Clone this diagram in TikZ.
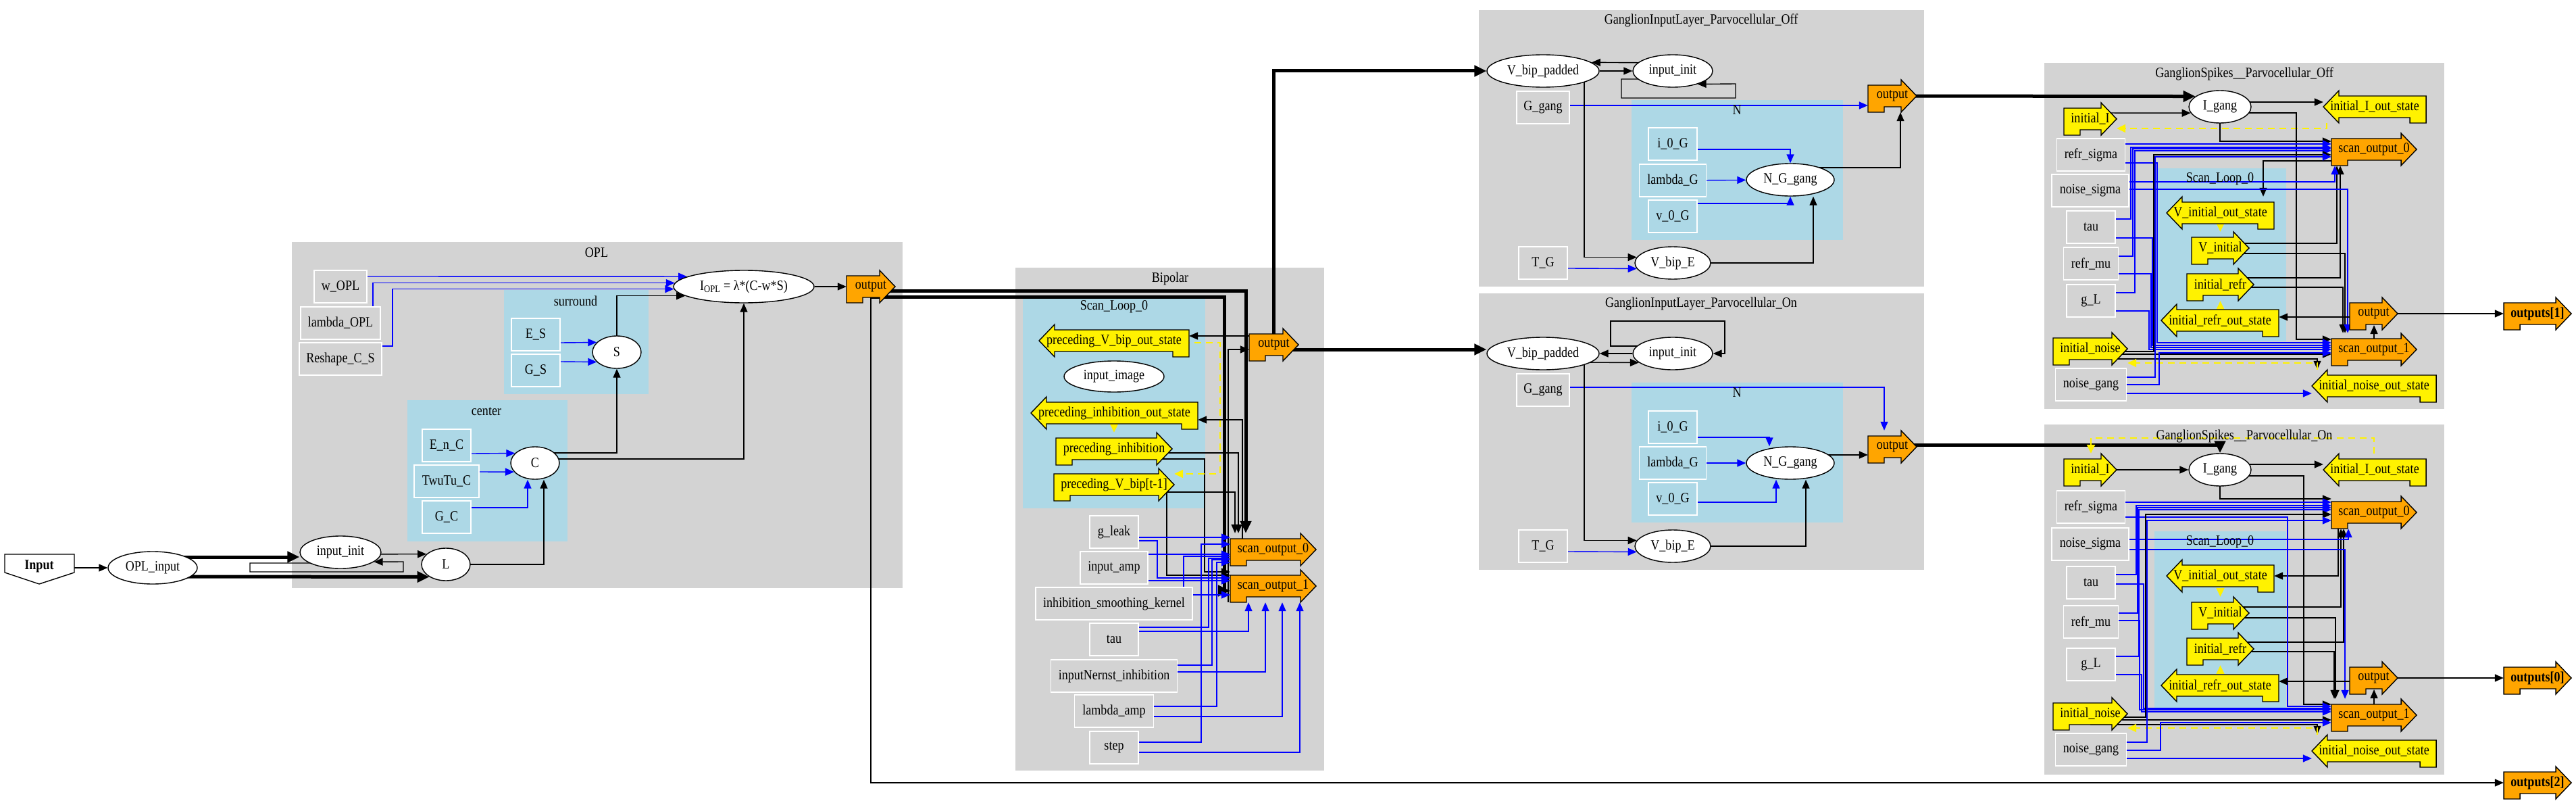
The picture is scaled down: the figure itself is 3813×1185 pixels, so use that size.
\documentclass[tikz,border=0pt]{standalone}
\usepackage{fontspec}
\setmainfont[FakeStretch=0.86]{Liberation Serif}
\usetikzlibrary{shapes.geometric,arrows.meta,positioning}
\definecolor{clgray}{HTML}{D3D3D3}
\definecolor{clblue}{HTML}{ADD8E6}
\definecolor{gvorange}{HTML}{FFA500}
\pgfdeclarelayer{clusters}
\pgfdeclarelayer{edges}
\pgfsetlayers{clusters,edges,main}
\newcommand{\gvfont}{\fontsize{21}{24}\selectfont}
% arrow shaped nodes: name, fill, left x, right x, centre y, text
\newcommand{\rarrnode}[6]{%
  \filldraw[fill=#2, shapeline] (#3,#5-16) -- (#4-23,#5-16) -- (#4-23,#5-24) -- (#4,#5)
    -- (#4-23,#5+24) -- (#4-23,#5+16) -- (#3+24,#5+16) -- (#3+24,#5+24) -- (#3,#5+24) -- cycle;
  \node[arrlbl, minimum width={#4-#3}] (#1) at ({(#3+#4)/2},#5) {#6};}
\newcommand{\larrnode}[6]{%
  \filldraw[fill=#2, shapeline] (#4,#5-16) -- (#3+23,#5-16) -- (#3+23,#5-24) -- (#3,#5)
    -- (#3+23,#5+24) -- (#3+23,#5+16) -- (#4-24,#5+16) -- (#4-24,#5+24) -- (#4,#5+24) -- cycle;
  \node[arrlbl, minimum width={#4-#3}] (#1) at ({(#3+#4)/2},#5) {#6};}

\begin{document}
\begin{tikzpicture}[
x=1pt, y=-1pt,
blk/.style={draw=black, line width=1.4pt, -{Triangle[length=13pt,width=11pt]}},
blu/.style={blk, draw=blue},
thk/.style={draw=black, line width=5pt, -{Triangle[length=18pt,width=16pt]}},
ydash/.style={draw=yellow, line width=2.2pt, dash pattern=on 10pt off 7pt, -{Triangle[length=13pt,width=12pt]}},
ytip/.style={draw=yellow, line width=2pt, -{Triangle[length=13pt,width=12pt]}},
shapeline/.style={draw=black, line width=1.4pt},
arrlbl/.style={font=\gvfont, inner sep=0pt, minimum height=48pt},
ell/.style={ellipse, draw=black, line width=1.4pt, fill=white, font=\gvfont, minimum height=48pt, inner sep=0pt},
gbox/.style={draw=white, line width=1.2pt, fill=#1, font=\gvfont, minimum height=48pt, inner sep=0pt},
gbox/.default=clgray,
ttl/.style={font=\gvfont, inner sep=0pt}
]
\useasboundingbox (0,0) rectangle (3813,1185);

\begin{pgfonlayer}{clusters}
\fill[white] (0,0) rectangle (3813,1185);
\fill[clgray] (432,358) rectangle (1336,870);
\fill[clblue] (746,429) rectangle (960,583);
\fill[clblue] (603,592) rectangle (840,801);
\fill[clgray] (1503,396) rectangle (1960,1140);
\fill[clblue] (1514,441) rectangle (1784,752);
\fill[clgray] (2189,15) rectangle (2848,424);
\fill[clblue] (2415,148) rectangle (2728,355);
\fill[clgray] (2189,434) rectangle (2848,843);
\fill[clblue] (2415,566) rectangle (2728,773);
\fill[clgray] (3026,93) rectangle (3618,605);
\fill[clblue] (3193,249) rectangle (3384,505);
\fill[clgray] (3026,628) rectangle (3618,1146);
\fill[clblue] (3189,786) rectangle (3384,1047);
\end{pgfonlayer}

\node[ttl] (tOPL) at (883,374) {OPL};
\node[ttl] (tsur) at (852,445) {surround};
\node[ttl] (tcen) at (720,609) {center};
\node[ttl] (tbip) at (1732,412) {Bipolar};
\node[ttl] (tbsl) at (1649,454) {Scan\_Loop\_0};
\node[ttl] (tgoff) at (2518,30) {GanglionInputLayer\_Parvocellular\_Off};
\node[ttl] (tnoff) at (2571,163) {N};
\node[ttl] (tgon) at (2518,449) {GanglionInputLayer\_Parvocellular\_On};
\node[ttl] (tnon) at (2571,581) {N};
\node[ttl] (tsoff) at (3322,109) {GanglionSpikes\_\_Parvocellular\_Off};
\node[ttl] (tsloff) at (3286,265) {Scan\_Loop\_0};
\node[ttl] (tson) at (3322,645) {GanglionSpikes\_\_Parvocellular\_On};
\node[ttl] (tslon) at (3286,802) {Scan\_Loop\_0};

% input and OPL
\filldraw[fill=white, shapeline] (7,820) -- (110,820) -- (110,847) -- (58,864) -- (7,847) -- cycle;
\node[arrlbl, minimum width=103, minimum height=44, font=\gvfont\bfseries] (inp) at (58,838) {Input};
\node[ell, minimum width=132] (oplin) at (226,840) {OPL\_input};
\node[gbox, minimum width=78] (wopl) at (504,424) {w\_OPL};
\node[gbox, minimum width=118] (lopl) at (504,478) {lambda\_OPL};
\node[gbox, minimum width=122] (rcs) at (504,531) {Reshape\_C\_S};
\node[gbox=clblue, minimum width=72] (es) at (793,495) {E\_S};
\node[gbox=clblue, minimum width=72] (gs) at (793,548) {G\_S};
\node[ell, minimum width=72] (oS) at (913,521) {S};
\node[ell, minimum width=208] (iopl) at (1101,424) {I\textsubscript{OPL} = λ*(C-w*S)};
\rarrnode{oout}{gvorange}{1253}{1325}{424}{output}
\node[gbox=clblue, minimum width=72] (enc) at (661,659) {E\_n\_C};
\node[gbox=clblue, minimum width=96] (twc) at (661,712) {TwuTu\_C};
\node[gbox=clblue, minimum width=72] (gc) at (661,765) {G\_C};
\node[ell, minimum width=72] (oC) at (792,685) {C};
\node[ell, minimum width=120] (oinit) at (504,817) {input\_init};
\node[ell, minimum width=72] (oL) at (660,835) {L};

% bipolar
\larrnode{bpvs}{yellow}{1538}{1760}{504}{preceding\_V\_bip\_out\_state}
\node[ell, minimum width=148, minimum height=46] (bimg) at (1649,557) {input\_image};
\larrnode{bpis}{yellow}{1526}{1773}{611}{preceding\_inhibition\_out\_state}
\rarrnode{bpi}{yellow}{1563}{1735}{664}{preceding\_inhibition}
\rarrnode{bpv}{yellow}{1560}{1738}{717}{preceding\_V\_bip[t-1]}
\node[gbox, minimum width=72] (bgl) at (1649,787) {g\_leak};
\node[gbox, minimum width=100] (bia) at (1649,840) {input\_amp};
\node[gbox, minimum width=232] (bisk) at (1649,893) {inhibition\_smoothing\_kernel};
\node[gbox, minimum width=72] (btau) at (1649,946) {tau};
\node[gbox, minimum width=187] (bin) at (1649,1000) {inputNernst\_inhibition};
\node[gbox, minimum width=117] (bla) at (1649,1052) {lambda\_amp};
\node[gbox, minimum width=72] (bstep) at (1649,1106) {step};
\rarrnode{bout}{gvorange}{1849}{1922}{510}{output}
\rarrnode{bso0}{gvorange}{1821}{1948}{813}{scan\_output\_0}
\rarrnode{bso1}{gvorange}{1821}{1948}{867}{scan\_output\_1}

% ganglion input layer, off
\node[ell, minimum width=166] (fvbp) at (2284,105) {V\_bip\_padded};
\node[ell, minimum width=118] (finit) at (2476,105) {input\_init};
\node[gbox, minimum width=78] (fgg) at (2284,159) {G\_gang};
\node[gbox=clblue, minimum width=72] (fi0) at (2476,213) {i\_0\_G};
\node[gbox=clblue, minimum width=99] (flg) at (2476,267) {lambda\_G};
\node[gbox=clblue, minimum width=72] (fv0) at (2476,320) {v\_0\_G};
\node[ell, minimum width=130] (fng) at (2650,266) {N\_G\_gang};
\rarrnode{fout}{gvorange}{2765}{2837}{142}{output}
\node[gbox, minimum width=72] (ftg) at (2284,389) {T\_G};
\node[ell, minimum width=112] (fvbe) at (2476,389) {V\_bip\_E};

% ganglion input layer, on
\node[ell, minimum width=166] (nvbp) at (2284,523) {V\_bip\_padded};
\node[ell, minimum width=118] (ninit) at (2476,523) {input\_init};
\node[gbox, minimum width=78] (ngg) at (2284,577) {G\_gang};
\node[gbox=clblue, minimum width=72] (ni0) at (2476,632) {i\_0\_G};
\node[gbox=clblue, minimum width=99] (nlg) at (2476,685) {lambda\_G};
\node[gbox=clblue, minimum width=72] (nv0) at (2476,738) {v\_0\_G};
\node[ell, minimum width=130] (nng) at (2650,685) {N\_G\_gang};
\rarrnode{nout}{gvorange}{2765}{2837}{661}{output}
\node[gbox, minimum width=72] (ntg) at (2284,808) {T\_G};
\node[ell, minimum width=112] (nvbe) at (2476,808) {V\_bip\_E};

% ganglion spikes, off
\node[ell, minimum width=92] (sfI) at (3286,158) {I\_gang};
\rarrnode{sfiI}{yellow}{3055}{3133}{176}{initial\_I}
\larrnode{sfIo}{yellow}{3439}{3591}{158}{initial\_I\_out\_state}
\node[gbox, minimum width=101] (sfrs) at (3095,229) {refr\_sigma};
\node[gbox, minimum width=114] (sfns) at (3094,282) {noise\_sigma};
\node[gbox, minimum width=72] (sftau) at (3095,336) {tau};
\node[gbox, minimum width=81] (sfrm) at (3095,390) {refr\_mu};
\node[gbox, minimum width=72] (sfgl) at (3095,445) {g\_L};
\rarrnode{sfin}{yellow}{3039}{3149}{516}{initial\_noise}
\node[gbox, minimum width=105] (sfng) at (3095,569) {noise\_gang};
\larrnode{sfino}{yellow}{3422}{3606}{571}{initial\_noise\_out\_state}
\larrnode{sfvio}{yellow}{3207}{3366}{315}{V\_initial\_out\_state}
\rarrnode{sfvi}{yellow}{3244}{3329}{367}{V\_initial}
\rarrnode{sfir}{yellow}{3237}{3336}{421}{initial\_refr}
\larrnode{sfiro}{yellow}{3199}{3373}{474}{initial\_refr\_out\_state}
\rarrnode{sfso0}{gvorange}{3451}{3577}{221}{scan\_output\_0}
\rarrnode{sfso1}{gvorange}{3451}{3577}{517}{scan\_output\_1}
\rarrnode{sfout}{gvorange}{3478}{3549}{464}{output}
\rarrnode{outs1}{gvorange}{3706}{3806}{464}{\textbf{outputs[1]}}

% ganglion spikes, on
\node[ell, minimum width=92] (snI) at (3286,695) {I\_gang};
\rarrnode{sniI}{yellow}{3055}{3133}{695}{initial\_I}
\larrnode{snIo}{yellow}{3439}{3591}{695}{initial\_I\_out\_state}
\node[gbox, minimum width=101] (snrs) at (3095,750) {refr\_sigma};
\node[gbox, minimum width=114] (snns) at (3094,805) {noise\_sigma};
\node[gbox, minimum width=72] (sntau) at (3095,862) {tau};
\node[gbox, minimum width=81] (snrm) at (3095,920) {refr\_mu};
\node[gbox, minimum width=72] (sngl) at (3095,983) {g\_L};
\rarrnode{snin}{yellow}{3039}{3149}{1056}{initial\_noise}
\node[gbox, minimum width=105] (snng) at (3095,1109) {noise\_gang};
\larrnode{snino}{yellow}{3422}{3606}{1111}{initial\_noise\_out\_state}
\larrnode{snvio}{yellow}{3207}{3366}{852}{V\_initial\_out\_state}
\rarrnode{snvi}{yellow}{3244}{3329}{907}{V\_initial}
\rarrnode{snir}{yellow}{3237}{3336}{960}{initial\_refr}
\larrnode{sniro}{yellow}{3199}{3373}{1014}{initial\_refr\_out\_state}
\rarrnode{snso0}{gvorange}{3451}{3577}{758}{scan\_output\_0}
\rarrnode{snso1}{gvorange}{3451}{3577}{1058}{scan\_output\_1}
\rarrnode{snout}{gvorange}{3478}{3549}{1003}{output}
\rarrnode{outs0}{gvorange}{3706}{3806}{1003}{\textbf{outputs[0]}}
\rarrnode{outs2}{gvorange}{3706}{3806}{1158}{\textbf{outputs[2]}}

\begin{pgfonlayer}{edges}
% OPL
\draw[blk] (inp.east |- 0,840) -- (oplin.west);
\draw[thk] (oplin.center |- 0,824) -- (oinit.west |- 0,824);
\draw[thk] (oplin.center |- 0,853) -- (oL.217);
\draw[blk] (oinit.center |- 0,833) -- (370,833) -- (370,846) -- (597,846) -- (597,831) -- (oinit.-16);
\draw[blk] (oinit.center |- 0,820) -- (oL.152);
\draw[blk] (oL.center) -| (805,0 |- oC.south);
\draw[blu] (gc.east |- 0,751) -| (781,0 |- oC.south);
\draw[blu] (enc.east |- 0,671) -- (oC.154);
\draw[blu] (twc.east |- 0,698) -- (oC.203);
\draw[blk] (oC.center |- 0,670) -| (oS.south);
\draw[blk] (oC.center |- 0,679) -| (iopl.south);
\draw[blu] (es.east |- 0,507) -- (oS.154);
\draw[blu] (gs.east |- 0,535) -- (oS.206);
\draw[blk] (oS.center) |- (iopl.189);
\draw[blu] (wopl.east |- 0,409) -- (iopl.170);
\draw[blu] (552,0 |- lopl.north) |- (iopl.177);
\draw[blu] (rcs.east |- 0,512) -| (581,0 |- iopl.182) -- (iopl.182);
\draw[blk] (iopl) -- (oout);
\draw[blk] (oout.center) |- (outs2.west);
\draw[thk] (oout.center |- 0,430) -| (1844,0 |- bso0.north);
\draw[thk] (oout.center |- 0,439) -| (1812,874) -- (bso1.west |- 0,874);
% bipolar
\draw[blk] (bout.center |- 0,497) -- (bpvs.east |- 0,497);
\draw[blk] (1818,0 |- bso1.south) |- (bout.west |- 0,517);
\draw[blk] (1839,0 |- bso0.center) |- (bpis.east |- 0,621);
\draw[blk] (bpi.center |- 0,670) -| (1833,0 |- bso0.north);
\draw[blk] (bpv.center |- 0,728) -| (1828,0 |- bso0.north);
\draw[blk] (bpi.center |- 0,679) -| (1783,846) -- (bso1.west |- 0,846);
\draw[blk] (1727,0 |- bpv.center) |- (bso1.west |- 0,851);
\draw[ydash] (bpvs.center |- 0,507) -| (1806,701) -- (bpv.east |- 0,701);
\draw[ytip] (bpi.north |- bpis.south) -- (bpi.north);
\draw[blu] (bgl.east |- 0,795) -- (bso0.west |- 0,795);
\draw[blu] (bgl.east |- 0,800) -| (1713,855) -- (bso1.west |- 0,855);
\draw[blu] (bia.east |- 0,820) -- (bso0.west |- 0,820);
\draw[blu] (bia.east |- 0,859) -- (bso1.west |- 0,859);
\draw[blu] (1752,0 |- bisk.north) |- (bso0.west |- 0,823);
\draw[blu] (bisk.east |- 0,880) -- (bso1.west |- 0,880);
\draw[blu] (btau.east |- 0,928) -| (1789,826) -- (bso0.west |- 0,826);
\draw[blu] (btau.east |- 0,934) -| (1848,0 |- bso1.south);
\draw[blu] (bin.east |- 0,984) -| (1794,828) -- (bso0.west |- 0,828);
\draw[blu] (bin.east |- 0,994) -| (1873,0 |- bso1.south);
\draw[blu] (bla.east |- 0,1045) -| (1801,832) -- (bso0.west |- 0,832);
\draw[blu] (bla.east |- 0,1060) -| (1898,0 |- bso1.south);
\draw[blu] (bstep.east |- 0,1098) -| (1778,805) -- (bso0.west |- 0,805);
\draw[blu] (bstep.east |- 0,1113) -| (1924,0 |- bso1.south);
\draw[thk] (bout.center) |- (fvbp.west);
\draw[thk] (bout.center |- 0,517) -- (nvbp.west |- 0,517);
% ganglion input layer, off
\draw[blk] (fvbp) -- (finit);
\draw[blk] (finit.center |- 0,93) -- (fvbp.10);
\draw[blk] (finit.center |- 0,117) -| (2400,145) -| (2569,124) -- (finit.-28);
\draw[blu] (fgg.east |- 0,156) -- (fout.west |- 0,156);
\draw[blu] (fi0.east |- 0,221) -| (fng.north);
\draw[blu] (flg) -- (fng);
\draw[blu] (fv0.east |- 0,301) -| (fng.south);
\draw[blk] (fng.center |- 0,248) -| (2813,0 |- fout.south);
\draw[blk] (2345,0 |- fvbp.center) |- (fvbe.171);
\draw[blu] (ftg.east |- 0,397) -- (fvbe.189);
\draw[blk] (fvbe.center) -| (2684,0 |- fng.south);
\draw[thk] (fout.center) -- (sfI.157);
% ganglion input layer, on
\draw[blk] (nvbp.center |- 0,536) -- (ninit.195);
\draw[blk] (ninit) -- (nvbp);
\draw[blk] (ninit.center |- 0,512) -| (2384,475) -| (2553,0 |- ninit.east) -- (ninit.east);
\draw[blu] (ngg.east |- 0,573) -| (2789,0 |- nout.north);
\draw[blu] (ni0.east |- 0,647) -| (2619,0 |- nng.north);
\draw[blu] (nlg) -- (nng);
\draw[blu] (nv0.east |- 0,743) -| (2629,0 |- nng.south);
\draw[blk] (nng.center |- 0,673) -- (nout.west |- 0,673);
\draw[blk] (2345,0 |- nvbp.center) |- (nvbe.171);
\draw[blu] (ntg.east |- 0,816) -- (nvbe.189);
\draw[blk] (nvbe.center) -| (2673,0 |- nng.south);
\draw[thk] (nout.center |- 0,658) -| (snI.north);
% ganglion spikes, off
\draw[blk] (sfiI.center |- 0,167) -- (sfI.192);
\draw[blk] (sfI.center |- 0,151) -- (sfIo.west |- 0,151);
\draw[ydash] (3444,0 |- sfIo.south) |- (sfiI.east |- 0,190);
\draw[blk] (sfI.center) |- (sfso0.west |- 0,209);
\draw[blk] (sfI.center |- 0,167) -| (3399,502) -- (sfso1.west |- 0,502);
\draw[blk] (sfso0.west |- 0,238) -| (3350,0 |- sfvio.north);
\draw[blk] (sfvi.center |- 0,360) -| (3459,0 |- sfso0.south);
\draw[blk] (sfvi.center |- 0,375) -| (3471,0 |- sfso1.north);
\draw[blk] (sfir.center |- 0,411) -| (3464,0 |- sfso0.south);
\draw[blk] (sfir.center |- 0,425) -| (3468,0 |- sfso1.north);
\draw[ytip] (sfvi.north |- sfvio.south) -- (sfvi.north);
\draw[ytip] (sfir.south |- sfiro.north) -- (sfir.south);
\draw[blu] (sfns.east |- 0,269) -| (3456,0 |- sfso0.south);
\draw[blu] (sfns.east |- 0,280) -| (3475,0 |- sfso1.north);
\draw[blu] (sfrs.east |- 0,213) -- (sfso0.west |- 0,213);
\draw[blu] (sfrs.east |- 0,241) -| (3193,507) -- (sfso1.west |- 0,507);
\draw[blu] (sftau.east |- 0,324) -| (3154,218) -- (sfso0.west |- 0,218);
\draw[blu] (sftau.east |- 0,352) -| (3186,511) -- (sfso1.west |- 0,511);
\draw[blu] (sfrm.east |- 0,379) -| (3157,220) -- (sfso0.west |- 0,220);
\draw[blu] (sfrm.east |- 0,405) -| (3184,514) -- (sfso1.west |- 0,514);
\draw[blu] (sfgl.east |- 0,433) -| (3160,223) -- (sfso0.west |- 0,223);
\draw[blu] (sfgl.east |- 0,460) -| (3181,517) -- (sfso1.west |- 0,517);
\draw[blk] (sfin.center |- 0,520) -| (3188,229) -- (sfso0.west |- 0,229);
\draw[blk] (sfin.center |- 0,524) -- (sfso1.west |- 0,524);
\draw[blk] (sfin.center |- 0,531) -| (3430,0 |- sfino.north);
\draw[ydash] (3430,0 |- sfino.north) |- (sfin.east |- 0,537);
\draw[blu] (sfng.east |- 0,558) -| (3190,232) -- (sfso0.west |- 0,232);
\draw[blu] (sfng.east |- 0,569) -| (3196,522) -- (sfso1.west |- 0,522);
\draw[blu] (sfng.east |- 0,582) -- (sfino.west |- 0,582);
\draw[blk] (sfout) -- (outs1);
\draw[blk] (sfout.center |- 0,469) -- (sfiro.east |- 0,469);
\draw[blk] (3514,0 |- sfso1.center) -- (3514,481);
% ganglion spikes, on
\draw[blk] (sniI) -- (snI);
\draw[blk] (snI.center |- 0,687) -- (snIo.west |- 0,687);
\draw[ydash] (3514,0 |- snIo.north) -- (3514,648) -| (3095,0 |- sniI.north);
\draw[blk] (snI.center) |- (snso0.west |- 0,738);
\draw[blk] (snI.center |- 0,704) -| (3410,1042) -- (snso1.west |- 0,1042);
\draw[blk] (3461,0 |- snso0.center) |- (snvio.east);
\draw[blk] (snvi.center |- 0,898) -| (3465,0 |- snso0.south);
\draw[blk] (snvi.center |- 0,914) -| (3457,0 |- snso1.north);
\draw[blk] (snir.center |- 0,950) -| (3469,0 |- snso0.south);
\draw[blk] (snir.center |- 0,964) -| (3455,0 |- snso1.north);
\draw[ytip] (snvi.north |- snvio.south) -- (snvi.north);
\draw[ytip] (snir.south |- sniro.north) -- (snir.south);
\draw[blu] (snns.east |- 0,798) -| (3476,0 |- snso0.south);
\draw[blu] (snns.east |- 0,813) -| (3471,0 |- snso1.north);
\draw[blu] (snrs.east |- 0,743) -- (snso0.west |- 0,743);
\draw[blu] (snrs.east |- 0,765) -| (3386,1045) -- (snso1.west |- 0,1045);
\draw[blu] (sntau.east |- 0,850) -| (3162,748) -- (snso0.west |- 0,748);
\draw[blu] (sntau.east |- 0,864) -| (3173,1048) -- (snso1.west |- 0,1048);
\draw[blu] (snrm.east |- 0,907) -| (3164,751) -- (snso0.west |- 0,751);
\draw[blu] (snrm.east |- 0,918) -| (3167,1050) -- (snso1.west |- 0,1050);
\draw[blu] (sngl.east |- 0,971) -| (3166,754) -- (snso0.west |- 0,754);
\draw[blu] (sngl.east |- 0,998) -| (3170,1053) -- (snso1.west |- 0,1053);
\draw[blk] (snin.center |- 0,1061) -| (3176,761) -- (snso0.west |- 0,761);
\draw[blk] (snin.center |- 0,1065) -- (snso1.west |- 0,1065);
\draw[blk] (snin.center |- 0,1072) -| (3430,0 |- snino.north);
\draw[ydash] (3430,0 |- snino.north) |- (snin.east |- 0,1077);
\draw[blu] (snng.east |- 0,1098) -| (3178,770) -- (snso0.west |- 0,770);
\draw[blu] (snng.east |- 0,1110) -| (3198,1069) -- (snso1.west |- 0,1069);
\draw[blu] (snng.east |- 0,1122) -- (snino.west |- 0,1122);
\draw[blk] (snout) -- (outs0);
\draw[blk] (snout.center |- 0,1008) -- (sniro.east |- 0,1008);
\draw[blk] (3514,0 |- snso1.center) -- (3514,1020);
\end{pgfonlayer}
\end{tikzpicture}
\end{document}
